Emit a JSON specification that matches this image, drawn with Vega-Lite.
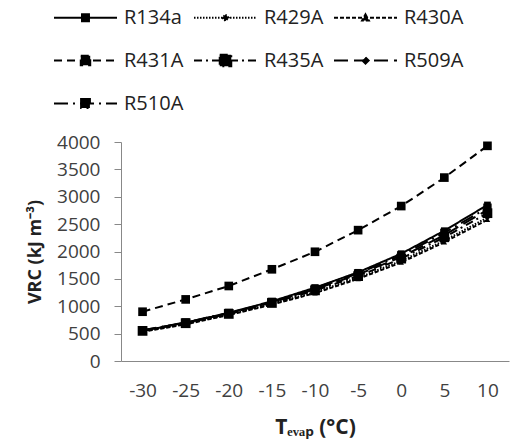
{
  "$schema": "https://vega.github.io/schema/vega-lite/v6.json",
  "width": 388,
  "height": 219,
  "autosize": {"type": "none"},
  "padding": {"left": 121, "top": 142, "right": 2, "bottom": 83},
  "background": "white",
  "config": {
    "view": {"stroke": null},
    "mark": {"color": "black"},
    "font": "Open Sans",
    "legend": {"padding": 0},
    "axis": {"grid": false, "domainColor": "#888888", "tickColor": "#888888", "labelColor": "#404040", "labelFont": "Open Sans", "labelFontSize": 19, "titleFont": "Open Sans", "titleFontSize": 18, "titleFontWeight": "bold", "titleColor": "#222222"}
  },
  "data": {"values": [
    {"T": -30, "series": "R134a", "v": 550}, {"T": -25, "series": "R134a", "v": 700}, {"T": -20, "series": "R134a", "v": 880}, {"T": -15, "series": "R134a", "v": 1090}, {"T": -10, "series": "R134a", "v": 1340}, {"T": -5, "series": "R134a", "v": 1620}, {"T": 0, "series": "R134a", "v": 1960}, {"T": 5, "series": "R134a", "v": 2380}, {"T": 10, "series": "R134a", "v": 2850},
    {"T": -30, "series": "R429A", "v": 540}, {"T": -25, "series": "R429A", "v": 680}, {"T": -20, "series": "R429A", "v": 850}, {"T": -15, "series": "R429A", "v": 1040}, {"T": -10, "series": "R429A", "v": 1260}, {"T": -5, "series": "R429A", "v": 1520}, {"T": 0, "series": "R429A", "v": 1830}, {"T": 5, "series": "R429A", "v": 2200}, {"T": 10, "series": "R429A", "v": 2620},
    {"T": -30, "series": "R430A", "v": 535}, {"T": -25, "series": "R430A", "v": 670}, {"T": -20, "series": "R430A", "v": 840}, {"T": -15, "series": "R430A", "v": 1030}, {"T": -10, "series": "R430A", "v": 1240}, {"T": -5, "series": "R430A", "v": 1500}, {"T": 0, "series": "R430A", "v": 1800}, {"T": 5, "series": "R430A", "v": 2170}, {"T": 10, "series": "R430A", "v": 2580},
    {"T": -30, "series": "R431A", "v": 900}, {"T": -25, "series": "R431A", "v": 1125}, {"T": -20, "series": "R431A", "v": 1370}, {"T": -15, "series": "R431A", "v": 1675}, {"T": -10, "series": "R431A", "v": 1995}, {"T": -5, "series": "R431A", "v": 2390}, {"T": 0, "series": "R431A", "v": 2830}, {"T": 5, "series": "R431A", "v": 3350}, {"T": 10, "series": "R431A", "v": 3930},
    {"T": -30, "series": "R435A", "v": 550}, {"T": -25, "series": "R435A", "v": 690}, {"T": -20, "series": "R435A", "v": 860}, {"T": -15, "series": "R435A", "v": 1060}, {"T": -10, "series": "R435A", "v": 1290}, {"T": -5, "series": "R435A", "v": 1550}, {"T": 0, "series": "R435A", "v": 1870}, {"T": 5, "series": "R435A", "v": 2260}, {"T": 10, "series": "R435A", "v": 2700},
    {"T": -30, "series": "R509A", "v": 560}, {"T": -25, "series": "R509A", "v": 700}, {"T": -20, "series": "R509A", "v": 870}, {"T": -15, "series": "R509A", "v": 1070}, {"T": -10, "series": "R509A", "v": 1310}, {"T": -5, "series": "R509A", "v": 1580}, {"T": 0, "series": "R509A", "v": 1900}, {"T": 5, "series": "R509A", "v": 2300}, {"T": 10, "series": "R509A", "v": 2760},
    {"T": -30, "series": "R510A", "v": 560}, {"T": -25, "series": "R510A", "v": 705}, {"T": -20, "series": "R510A", "v": 880}, {"T": -15, "series": "R510A", "v": 1080}, {"T": -10, "series": "R510A", "v": 1320}, {"T": -5, "series": "R510A", "v": 1600}, {"T": 0, "series": "R510A", "v": 1930}, {"T": 5, "series": "R510A", "v": 2340}, {"T": 10, "series": "R510A", "v": 2800}
  ]},
  "encoding": {
    "x": {"field": "T", "type": "ordinal", "scale": {"domain": [-30, -25, -20, -15, -10, -5, 0, 5, 10], "padding": 0.5},
      "axis": {"title": "Tₑᵥₐₚ (°C)", "titleFontSize": 21, "labelAngle": 0, "ticks": false, "labelPadding": 20, "titlePadding": 16}},
    "y": {"field": "v", "type": "quantitative", "scale": {"domain": [0, 4000]},
      "axis": {"title": "VRC (kJ m⁻³)", "format": "d", "values": [0, 500, 1000, 1500, 2000, 2500, 3000, 3500, 4000], "tickSize": 7, "labelPadding": 14, "titlePadding": 12}}
  },
  "layer": [
    {
      "mark": {"type": "line", "strokeWidth": 2, "color": "black"},
      "encoding": {
        "strokeDash": {"field": "series", "type": "nominal",
          "scale": {"domain": ["R134a", "R429A", "R430A", "R431A", "R435A", "R509A", "R510A"],
                    "range": [[1, 0], [1.5, 1.5], [4, 2], [8, 5], [8, 4, 2, 4], [14, 6], [14, 5, 2, 5]]}}
      }
    },
    {
      "transform": [{"filter": {"field": "series", "oneOf": ["R134a"]}}],
      "mark": {"type": "point", "filled": true, "color": "black", "opacity": 1, "shape": "square", "size": 45},
      "encoding": {}
    },
    {
      "transform": [{"filter": {"field": "series", "oneOf": ["R429A", "R509A"]}}],
      "mark": {"type": "point", "filled": true, "color": "black", "opacity": 1, "shape": "diamond", "size": 30},
      "encoding": {}
    },
    {
      "transform": [{"filter": {"field": "series", "oneOf": ["R430A"]}}],
      "mark": {"type": "point", "filled": true, "color": "black", "opacity": 1, "shape": "triangle-up", "size": 30},
      "encoding": {}
    },
    {
      "transform": [{"filter": {"field": "series", "oneOf": ["R431A"]}}],
      "mark": {"type": "point", "filled": true, "color": "black", "opacity": 1, "shape": "square", "size": 75},
      "encoding": {}
    },
    {
      "transform": [{"filter": {"field": "series", "oneOf": ["R435A"]}}],
      "mark": {"type": "point", "filled": true, "color": "black", "opacity": 1, "shape": "square", "size": 95},
      "encoding": {}
    },
    {
      "transform": [{"filter": {"field": "series", "oneOf": ["R510A"]}}],
      "mark": {"type": "point", "filled": true, "color": "black", "opacity": 1, "shape": "square", "size": 70},
      "encoding": {}
    },
    {
      "mark": {"type": "point", "filled": true, "color": "black", "opacity": 0},
      "encoding": {
        "shape": {"field": "series", "type": "nominal",
          "scale": {"domain": ["R134a", "R429A", "R430A", "R431A", "R435A", "R509A", "R510A"],
                    "range": [
                      "M-1,0H1M-0.11,-0.11H0.11V0.11H-0.11Z",
                      "M-1,0H1M0,-0.1L0.1,0L0,0.1L-0.1,0Z",
                      "M-1,0H1M0,-0.107L0.107,0.087H-0.107Z",
                      "M-1,0H1M-0.15,-0.15H0.15V0.15H-0.15Z",
                      "M-1,0H1M-0.183,-0.183H0.183V0.183H-0.183Z",
                      "M-1,0H1M0,-0.1L0.1,0L0,0.1L-0.1,0Z",
                      "M-1,0H1M-0.14,-0.14H0.14V0.14H-0.14Z"]},
          "legend": {"title": null, "orient": "none", "legendX": -68, "legendY": -157, "direction": "horizontal", "columns": 3, "symbolSize": 3969, "symbolStrokeWidth": 2, "symbolStrokeColor": "black", "symbolFillColor": "black", "symbolOpacity": 1, "labelFontSize": 20, "labelFont": "Open Sans", "labelColor": "#222222", "labelOffset": 6, "columnPadding": 6, "rowPadding": -21}},
        "strokeDash": {"field": "series", "type": "nominal"}
      }
    }
  ]
}
